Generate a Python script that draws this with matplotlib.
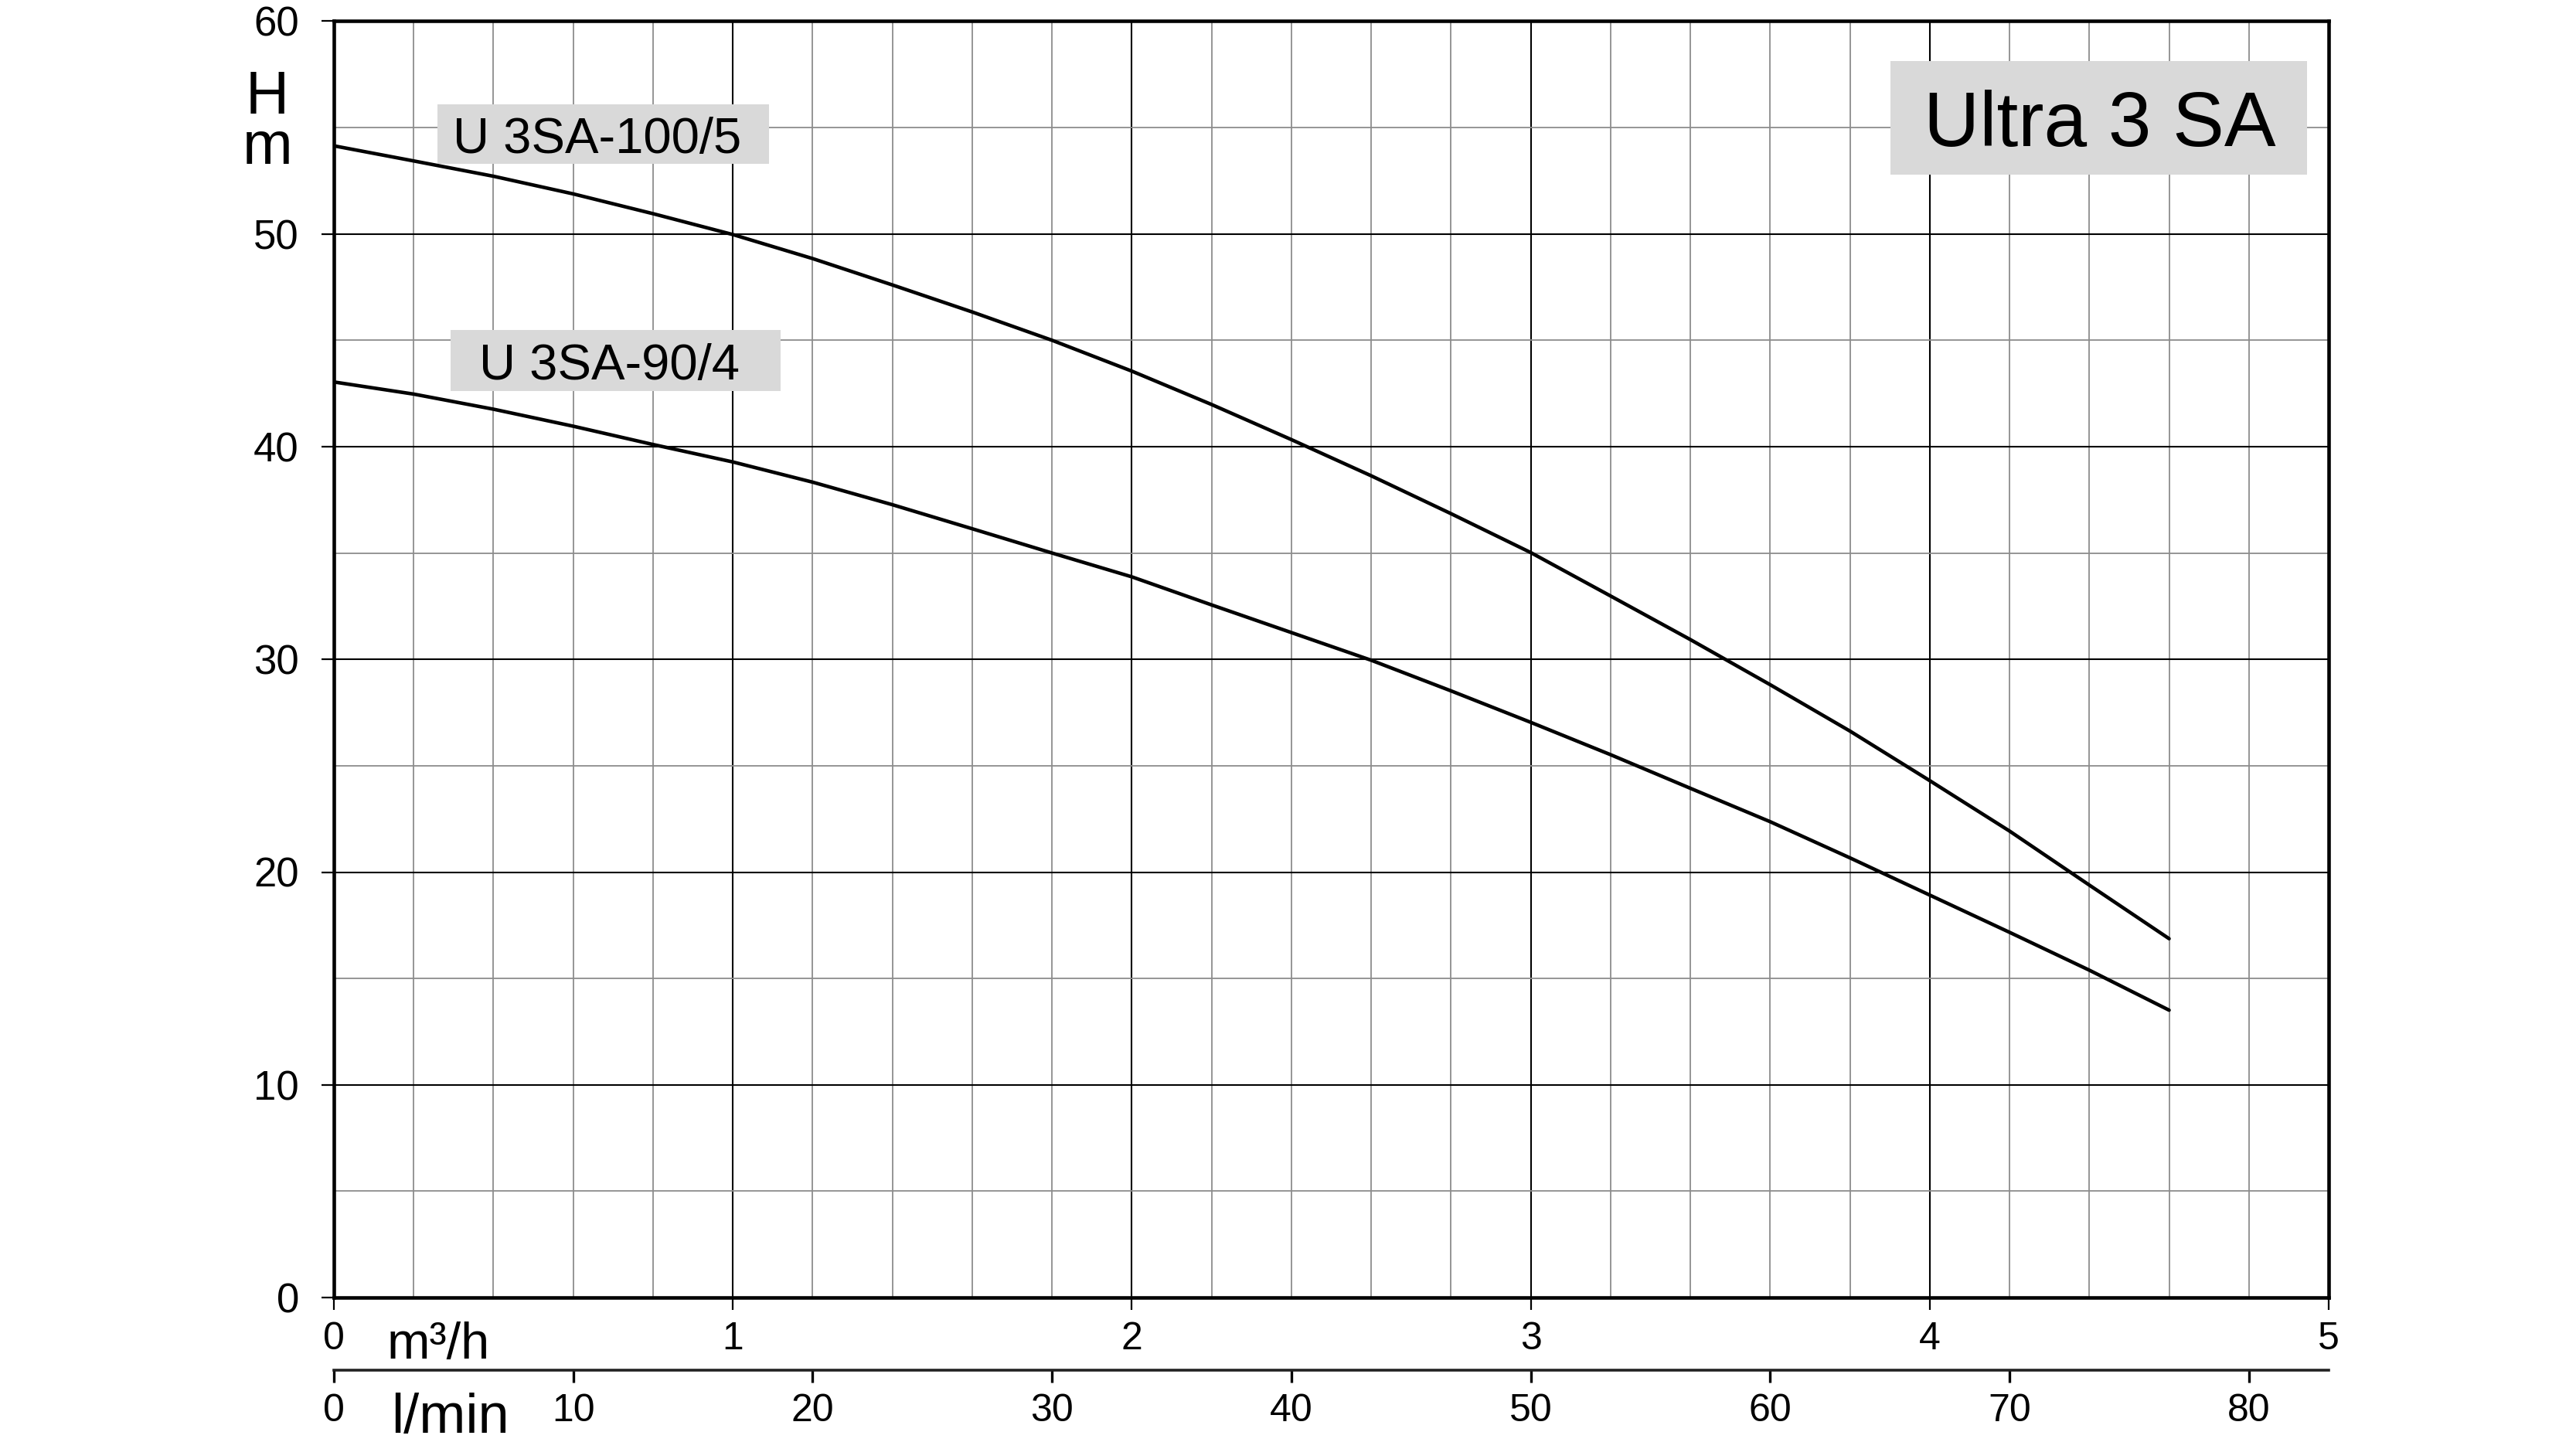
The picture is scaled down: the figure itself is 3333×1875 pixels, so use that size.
import numpy as np
import matplotlib
matplotlib.use("Agg")
from matplotlib import pyplot as plt
from matplotlib.patches import Rectangle

plt.rcParams['font.family'] = ['Liberation Sans', 'DejaVu Sans']

# flow in m3/h, head in m
flow = [0.0, 0.2, 0.4, 0.6, 0.8, 1.0, 1.2, 1.4, 1.6, 1.8, 2.0, 2.2,
        2.4, 2.6, 2.8, 3.0, 3.2, 3.4, 3.6, 3.8, 4.0, 4.2, 4.4, 4.6]
head_100_5 = [54.14, 53.43, 52.71, 51.88, 50.95, 49.97, 48.84, 47.60, 46.33, 45.00, 43.55, 41.98,
              40.33, 38.63, 36.85, 35.02, 32.98, 30.93, 28.81, 26.63, 24.30, 21.93, 19.39, 16.87]
head_90_4 = [43.04, 42.47, 41.76, 40.96, 40.10, 39.28, 38.33, 37.27, 36.14, 35.00, 33.88, 32.56,
             31.26, 29.96, 28.52, 27.04, 25.52, 23.94, 22.37, 20.67, 18.92, 17.17, 15.39, 13.51]
labels = ['U 3SA-100/5', 'U 3SA-90/4']
title = 'Ultra 3 SA'

m3h_ticks = [0, 1, 2, 3, 4, 5]
lmin_ticks = [0, 10, 20, 30, 40, 50, 60, 70, 80]
h_ticks = [0, 10, 20, 30, 40, 50, 60]

fig = plt.figure(figsize=(33.33, 18.75), dpi=100)
ax = fig.add_axes([0.1296, 0.1045, 0.7744, 0.8809])
ax.set_xlim(0, 5)
ax.set_ylim(0, 60)
ax.set_xticks(m3h_ticks)
ax.set_yticks(h_ticks)
ax.set_xticks(np.arange(0, 5.01, 0.2), minor=True)
ax.set_yticks(np.arange(0, 60.1, 5), minor=True)
ax.set_axisbelow(True)
ax.grid(which='major', color='black', lw=1.5)
ax.grid(which='minor', color='#8c8c8c', lw=1.3)
for s in ax.spines.values():
    s.set_linewidth(3.3)
ax.tick_params(which='major', length=11.5, width=1.6, direction='out')
ax.tick_params(which='minor', length=0)
ax.tick_params(axis='y', labelsize=38, pad=21)
ax.tick_params(axis='x', labelsize=36, pad=11)

# second flow scale in l/min
sec = ax.secondary_xaxis(-0.0569, functions=(lambda q: q * 1000 / 60, lambda q: q * 60 / 1000))
sec.set_xticks(lmin_ticks)
sec.tick_params(length=11.5, width=2.4, pad=10, labelsize=36)
sec.spines['bottom'].set_linewidth(2.6)
sec.spines['bottom'].set_color('#222222')

ax.plot(flow, head_100_5, color='black', lw=3.3, zorder=5, solid_capstyle='round')
ax.plot(flow, head_90_4, color='black', lw=3.3, zorder=5, solid_capstyle='round')

box = '#d9d9d9'
ax.add_patch(Rectangle((0.26, 53.3), 0.83, 2.8, color=box, zorder=3, lw=0))
ax.text(0.66, 53.8, labels[0], fontsize=47, ha='center', va='baseline', zorder=4)
ax.add_patch(Rectangle((0.293, 42.6), 0.827, 2.9, color=box, zorder=3, lw=0))
ax.text(0.69, 43.15, labels[1], fontsize=47, ha='center', va='baseline', zorder=4)
ax.add_patch(Rectangle((3.902, 52.79), 1.044, 5.34, color=box, zorder=3, lw=0))
ax.text(4.426, 54.12, title, fontsize=72, ha='center', va='baseline', zorder=4)

fig.text(0.1038, 0.8869, 'H\nm', fontsize=56, ha='center', va='baseline',
         multialignment='center', linespacing=0.86)
fig.text(0.1503, 0.0624, 'm³/h', fontsize=48, ha='left', va='baseline')
fig.text(0.152, 0.0112, 'l/min', fontsize=52, ha='left', va='baseline')

fig.savefig('out.png', dpi=100)
